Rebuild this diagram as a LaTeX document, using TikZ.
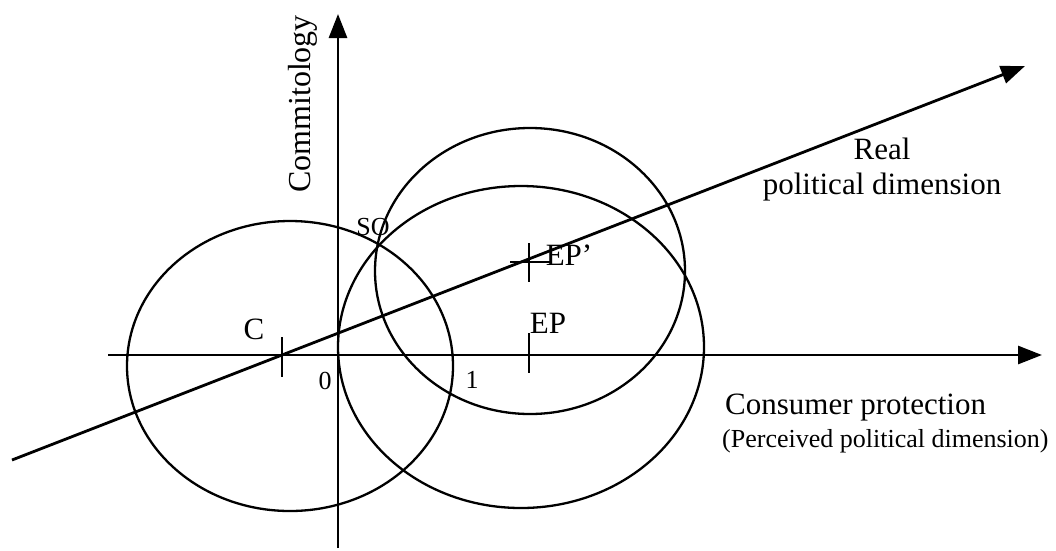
\documentclass[tikz,border=0pt]{standalone}
\usepackage{fontspec}
\setmainfont{Liberation Serif}
\usetikzlibrary{arrows.meta}
\begin{document}
\begin{tikzpicture}[x=1pt,y=-1pt,
  axis/.style={line width=2.8pt,-{Triangle[length=24pt,width=18pt]}},
  curve/.style={line width=2.3pt},
  tickmark/.style={line width=2.3pt},
  lbl/.style={font=\fontsize{31}{35}\selectfont, inner sep=0pt},
  smalllbl/.style={font=\fontsize{26}{30}\selectfont, inner sep=0pt}]
\useasboundingbox (0,0) rectangle (1056,550);
% axes
\coordinate (xs) at (108,355);
\coordinate (xe) at (1042,355);
\coordinate (ys) at (338,548);
\coordinate (ye) at (338,14);
\coordinate (rs) at (12,460);
\coordinate (re) at (1025,66);
\draw[axis] (xs) -- (xe);
\draw[axis] (ys) -- (ye);
\draw[axis] (rs) -- (re);
% indifference circles
\draw[curve] (290,366) ellipse [x radius=163pt, y radius=145pt];
\draw[curve] (521,347) ellipse [x radius=183pt, y radius=161pt];
\draw[curve] (530,271) ellipse [x radius=155pt, y radius=143pt];
% ticks
\coordinate (c1) at (282,337); \coordinate (c2) at (282,377);
\draw[tickmark] (c1) -- (c2);
\coordinate (e1) at (529,333); \coordinate (e2) at (529,373);
\draw[tickmark] (e1) -- (e2);
\coordinate (p1) at (529,243); \coordinate (p2) at (529,282);
\coordinate (p3) at (510,262); \coordinate (p4) at (551,262);
\draw[tickmark] (p1) -- (p2);
\draw[tickmark] (p3) -- (p4);
% labels
\node[lbl] (C) at (254,329) {C};
\node[smalllbl] (zero) at (325,381) {0};
\node[smalllbl] (one) at (472,380) {1};
\node[smalllbl] (SO) at (373,227) {SO};
\node[lbl] (EP) at (548,323) {EP};
\node[lbl] (EPp) at (569,255) {EP’};
\node[lbl, font=\fontsize{32}{36}\selectfont, rotate=90] (commit) at (303,104) {Commitology};
\node[lbl, align=center] (real) at (882,170) {Real\\political dimension};
\node[lbl, anchor=west] (cons) at (725,408) {Consumer protection};
\node[smalllbl, anchor=west] (perc) at (722,441) {(Perceived political dimension)};
\end{tikzpicture}
\end{document}
